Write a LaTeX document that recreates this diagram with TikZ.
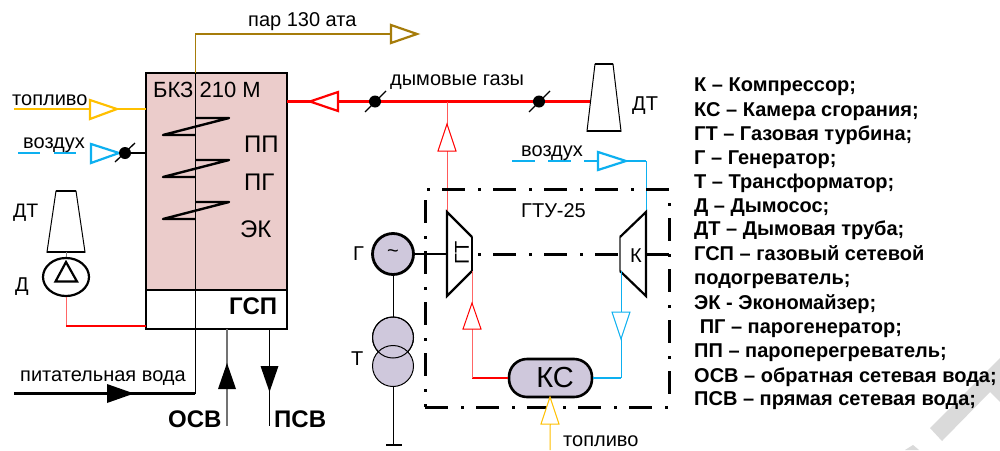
\documentclass[tikz,border=0pt]{standalone}
\usepackage{fontspec}
\setmainfont{Liberation Sans}
\usetikzlibrary{shapes.geometric}
\definecolor{pinkf}{HTML}{EBCCCB}
\definecolor{purp}{HTML}{CFC8DC}
\definecolor{yel}{HTML}{FFC000}
\definecolor{blu}{HTML}{0DB0F0}
\definecolor{brn}{HTML}{A67C0A}
\definecolor{redl}{HTML}{FF0000}
\definecolor{wm}{HTML}{DADADA}
\tikzset{
  x=1pt,y=-1pt,
  lbl/.style={inner sep=0pt,anchor=base west,font=\fontsize{20}{20}\selectfont},
  blbl/.style={inner sep=0pt,anchor=base west,font=\fontsize{24}{24}\selectfont\bfseries},
  thinline/.style={line width=1pt},
  thickline/.style={line width=2.6pt},
  trithick/.style={line width=2.2pt,fill=white,line join=miter},
  trithin/.style={line width=1pt,fill=white,line join=miter},
  solidtip/.style={fill=black,draw=none},
  valvedot/.style={circle,fill=black,inner sep=0pt,minimum size=12pt},
  slash/.style={line width=1.3pt},
  coil/.style={line width=2.4pt,line join=round},
  ddot/.style={line width=3pt,dash pattern=on 3pt off 12pt on 23pt off 13pt},
  ddash/.style={line width=3pt,dash pattern=on 23pt off 13pt on 3pt off 12pt},
  stackshape/.style={line width=1pt,fill=white},
  stacktop/.style={line width=2.6pt},
  purpc/.style={circle,draw=black,fill=purp,inner sep=0pt},
  leg/.style={anchor=base west,inner sep=0pt,font=\fontsize{20}{20}\selectfont\bfseries}
}
\begin{document}
\begin{tikzpicture}
\useasboundingbox (0,0) rectangle (1000,450);
\fill[white] (0,0) rectangle (1000,450);
% watermark
\fill[wm] (930,428) -- (1000,358) -- (1000,402) -- (990,392) -- (942,441) -- cycle;
\fill[wm] (905,450) -- (913,445) -- (919,450) -- cycle;

% boiler
\fill[pinkf] (146,73) rectangle (287,290);
\draw[line width=2.4pt] (146,290) -- (287,290);
\node[draw=black,line width=2.4pt,minimum width=141pt,minimum height=256pt,inner sep=0pt] (boiler) at (216.5,201) {};

% steam + feed water
\coordinate (steamC) at (195,34);
\coordinate (steamE) at (392,34);
\draw[brn,line width=2.6pt] (steamC) -- (steamE);
\coordinate (coilTop) at (195,73);
\draw[brn,thinline] (steamC) -- (coilTop);
\coordinate (feedC) at (195,393.5);
\coordinate (feedEnd) at (14,393.5);
\draw[line width=0.9pt] (coilTop) -- (feedC);
\draw[line width=2.2pt] (feedC) -- (feedEnd);
\draw[coil] (195,118) -- (229,118) -- (163,135) -- (195,135);
\draw[coil] (195,160) -- (229,160) -- (163,177) -- (195,177);
\draw[coil] (195,202) -- (229,202) -- (163,219) -- (195,219);
\fill[solidtip] (107,384) -- (134,393.5) -- (107,403) -- cycle;
\draw[brn,trithick] (391,25) -- (417,34) -- (391,43) -- cycle;

% OSV, PSV
\coordinate (osvT) at (227,329);
\coordinate (osvB) at (227,426);
\coordinate (psvT) at (269.5,329);
\coordinate (psvB) at (269.5,426);
\draw[black!55,line width=1.5pt] (osvT) -- (osvB);
\draw[line width=1.1pt] (psvT) -- (psvB);
\fill[solidtip] (218,389) -- (227,363) -- (236,389) -- cycle;
\fill[solidtip] (260.5,366) -- (269.5,392) -- (278.5,366) -- cycle;
\node[blbl] (osv) at (168,427) {ОСВ};
\node[blbl] (psv) at (274,427) {ПСВ};
\node[blbl] (gsp) at (229,314) {ГСП};

% fuel left
\coordinate (fuelL) at (14,109);
\coordinate (fuelR) at (146,109);
\draw[yel,thickline] (fuelL) -- (fuelR);
\draw[yel,trithick] (90,100) -- (117,109) -- (90,119) -- cycle;
% air left
\draw[blu,thickline] (18,153) -- (40,153);
\draw[blu,thickline] (54,153) -- (76,153);
\draw[blu,trithick] (91,144) -- (119,153) -- (91,163) -- cycle;
\node[valvedot] (v1) at (125,153) {};
\draw[slash] (115,162) -- (135,143);
\coordinate (airR) at (146,153);
\draw[line width=1.6pt] (v1) -- (airR);

% left stack + pump
\draw[stackshape] (56,191) -- (47,252) -- (85,252) -- (76,191) -- cycle;
\draw[stacktop] (56,191) -- (76,191);
\draw[stacktop] (47,252) -- (85,252);
\node[draw=black,line width=2.2pt,ellipse,minimum width=46pt,minimum height=38pt,inner sep=0pt] (pump) at (66,277) {};
\draw[line width=2.2pt,line join=miter] (66,262) -- (55.5,281.5) -- (77,281.5) -- cycle;
\coordinate (stackB) at (66,252);
\draw[black!50,thinline] (stackB) -- (pump);
\coordinate (fgC) at (66,326);
\coordinate (fgR) at (146,326);
\draw[redl!60,thinline] (pump) -- (fgC);
\draw[redl,thickline] (fgC) -- (fgR);

% flue gas line
\coordinate (gasL) at (287,101.5);
\coordinate (gasC) at (447,101.5);
\coordinate (gasR) at (591,101.5);
\draw[redl,thickline] (gasL) -- (gasR);
\draw[redl,trithick] (338,92) -- (310,101.5) -- (338,111) -- cycle;
\node[valvedot] (v2) at (375,101.5) {};
\node[valvedot] (v3) at (539,101.5) {};
\draw[slash] (365,112) -- (386,91);
\draw[slash] (529,112) -- (550,91);
% right stack
\draw[stackshape] (595,64) -- (587,131) -- (621,131) -- (613,64) -- cycle;
\draw[stacktop] (595,64) -- (613,64);
\draw[stacktop] (587,131) -- (621,131);

% turbine and compressor
\coordinate (gtT) at (447,212);
\coordinate (kT) at (646,212);
\draw[redl!65,thinline] (gasC) -- (gtT);
\draw[redl,trithin] (447,124) -- (438,151) -- (456,151) -- cycle;
% air right
\coordinate (airC) at (646,161);
\draw[blu,thickline] (512,161) -- (535,161);
\draw[blu,thickline] (548,161) -- (571,161);
\draw[blu,thickline] (584,161) -- (598,161);
\draw[blu,thickline] (620,161) -- (airC);
\draw[blu,trithick] (598,152) -- (626,161) -- (598,170) -- cycle;
\draw[blu,thinline] (airC) -- (kT);

% GTU frame
\draw[ddot] (427,189) -- (669,189);
\draw[ddot] (669,203) -- (669,407);
\draw[ddash] (425,407) -- (669,407);
\draw[ddash] (425,200) -- (425,407);
\draw[ddot] (478,254) -- (669,254);

% generator and transformer
\node[purpc,line width=2.8pt,minimum size=41pt,font=\fontsize{20}{20}\selectfont] (gen) at (393,254) {\char`\~};
\coordinate (gtM) at (447,254);
\draw[line width=1.8pt] (gen) -- (gtM);
\node[purpc,line width=1pt,minimum size=41pt] (tr1) at (393,337.5) {};
\node[purpc,line width=1pt,minimum size=41pt] (tr2) at (393,366) {};
\draw[line width=1pt] (393,337.5) circle (20.5pt);
\coordinate (gnd) at (393,445);
\draw[thinline] (gen) -- (tr1);
\draw[thinline] (tr2) -- (gnd);
\draw[line width=2.6pt] (386,445) -- (402,445);

\path[fill=white] (447,212) -- (472,237) -- (472,271) -- (447,296) -- cycle;
\draw[line width=1.1pt] (472,237) -- (472,271);
\draw[line width=2.2pt,line join=miter] (472,237) -- (447,212) -- (447,296) -- (472,271);
\node[inner sep=0pt,rotate=90,font=\fontsize{20}{20}\selectfont] (gtl) at (462,253) {ГТ};
\path[fill=white] (646,212) -- (620,237) -- (620,271) -- (646,296) -- cycle;
\draw[black!60,line width=1.1pt] (620,237) -- (620,271);
\draw[line width=2.2pt,line join=miter] (620,237) -- (646,212) -- (646,296) -- (620,271);
\node[inner sep=0pt,font=\fontsize{20}{20}\selectfont] (kl) at (636,255.5) {К};

% combustion chamber
\node[draw=black,line width=2.6pt,fill=purp,rounded corners=18pt,minimum width=83pt,minimum height=38pt,inner sep=0pt,
      font=\fontsize{29}{29}\selectfont] (ks) at (550.5,378) {\hspace{9pt}КС};
\coordinate (rC) at (472,378);
\coordinate (bC) at (621,378);
\draw[redl,thickline] (rC) -- (ks.west);
\draw[blu,thickline] (bC) -- (ks.east);
\coordinate (gtB) at (472,271);
\coordinate (kB) at (621,271);
\draw[redl!60,thinline] (gtB) -- (rC);
\draw[blu,thinline] (kB) -- (bC);
\draw[redl,trithin] (472,303) -- (463,329) -- (481,329) -- cycle;
\draw[blu,trithin] (612,312) -- (630,312) -- (621,339) -- cycle;
\coordinate (fuelB) at (550,450);
\draw[yel,thinline] (fuelB) -- (ks.south);
\draw[yel,trithin] (550,397) -- (541,424) -- (559,424) -- cycle;

% labels
\node[lbl] at (248,26.5) {пар 130 ата};
\node[lbl,font=\fontsize{22}{22}\selectfont] at (153,97.5) {БКЗ 210 М};
\node[lbl] at (12,105) {топливо};
\node[lbl] at (23,148) {воздух};
\node[lbl,font=\fontsize{24}{24}\selectfont] at (244,152) {ПП};
\node[lbl,font=\fontsize{24}{24}\selectfont] at (244,190.5) {ПГ};
\node[lbl,font=\fontsize{24}{24}\selectfont] at (240,237) {ЭК};
\node[lbl,font=\fontsize{19.5}{20}\selectfont] at (13,217) {ДТ};
\node[lbl,font=\fontsize{20}{20}\selectfont] at (15,291) {Д};
\node[lbl] at (20,381.5) {питательная вода};
\node[lbl] at (390,85) {дымовые газы};
\node[lbl,font=\fontsize{20}{20}\selectfont] at (632,110.5) {ДТ};
\node[lbl] at (521,156.5) {воздух};
\node[lbl] at (521,217.5) {ГТУ-25};
\node[lbl] at (353,260) {Г};
\node[lbl] at (351,365) {Т};
\node[lbl] at (563,446.5) {топливо};

% legend
\node[leg] at (694,91.5) {К – Компрессор;};
\node[leg] at (694,116.5) {КС – Камера сгорания;};
\node[leg] at (694,140) {ГТ – Газовая турбина;};
\node[leg] at (694,164) {Г – Генератор;};
\node[leg] at (694,188) {Т – Трансформатор;};
\node[leg] at (694,212) {Д – Дымосос;};
\node[leg] at (694,235.5) {ДТ – Дымовая труба;};
\node[leg] at (694,260) {ГСП – газовый сетевой};
\node[leg] at (694,284) {подогреватель;};
\node[leg] at (694,309) {ЭК - Экономайзер;};
\node[leg] at (694,333.5) {\ ПГ – парогенератор;};
\node[leg] at (694,357) {ПП – пароперегреватель;};
\node[leg] at (694,382) {ОСВ – обратная сетевая вода;};
\node[leg] at (694,405) {ПСВ – прямая сетевая вода;};
\end{tikzpicture}
\end{document}
